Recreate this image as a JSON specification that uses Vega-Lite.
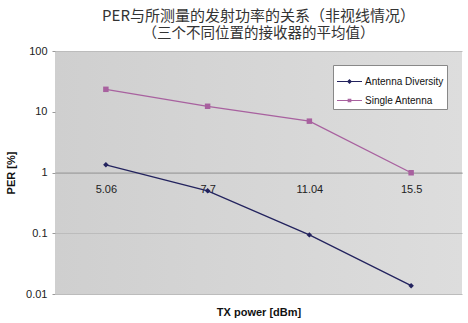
{
  "$schema": "https://vega.github.io/schema/vega-lite/v6.json",
  "width": 407,
  "height": 243,
  "autosize": {"type": "none"},
  "padding": {"left": 55, "top": 51, "right": 6, "bottom": 29},
  "background": "white",
  "config": {
    "view": {"stroke": null, "fill": {"gradient": "linear", "x1": 0, "y1": 0, "x2": 1, "y2": 0, "stops": [{"offset": 0, "color": "#cfcfcf"}, {"offset": 1, "color": "#dddddd"}]}},
    "font": "Liberation Sans"
  },
  "title": {
    "text": "PER与所测量的发射功率的关系（非视线情况）",
    "subtitle": "（三个不同位置的接收器的平均值）",
    "font": "Noto Sans CJK SC",
    "subtitleFont": "Noto Sans CJK SC",
    "fontSize": 15,
    "subtitleFontSize": 14.5,
    "fontWeight": "normal",
    "subtitleFontWeight": "normal",
    "color": "#333333",
    "subtitleColor": "#333333",
    "subtitlePadding": 3,
    "anchor": "middle",
    "offset": 5
  },
  "data": {
    "values": [
      {"power": "5.06", "series": "Antenna Diversity", "per": 1.34},
      {"power": "7.7", "series": "Antenna Diversity", "per": 0.50},
      {"power": "11.04", "series": "Antenna Diversity", "per": 0.094},
      {"power": "15.5", "series": "Antenna Diversity", "per": 0.0137},
      {"power": "5.06", "series": "Single Antenna", "per": 23.4},
      {"power": "7.7", "series": "Single Antenna", "per": 12.3},
      {"power": "11.04", "series": "Single Antenna", "per": 7.0},
      {"power": "15.5", "series": "Single Antenna", "per": 0.99}
    ]
  },
  "encoding": {
    "x": {
      "field": "power",
      "type": "ordinal",
      "sort": ["5.06", "7.7", "11.04", "15.5"],
      "scale": {"type": "point", "padding": 0.5},
      "axis": {
        "title": "TX power [dBm]",
        "titleFontWeight": "bold",
        "titleFontSize": 11,
        "titleColor": "#111111",
        "titleY": 139.5,
        "titleBaseline": "middle",
        "offset": -121.5,
        "labelAngle": 0,
        "labelPadding": 11,
        "labelFontSize": 11,
        "labelColor": "#222222",
        "ticks": false,
        "domainColor": "#9a9a9a",
        "domainWidth": 1,
        "grid": false
      }
    },
    "y": {
      "field": "per",
      "type": "quantitative",
      "scale": {"type": "log", "domain": [0.01, 100], "nice": false},
      "axis": {
        "title": "PER [%]",
        "titleFontWeight": "bold",
        "titleFontSize": 11,
        "titleColor": "#111111",
        "titlePadding": 9,
        "values": [0.01, 0.1, 1, 10, 100],
        "format": "~g",
        "labelFontSize": 11,
        "labelColor": "#222222",
        "labelPadding": 5,
        "tickSize": 3,
        "tickColor": "#999999",
        "domain": false,
        "grid": true,
        "gridColor": {"condition": {"test": "datum.value == 10", "value": "transparent"}, "value": "#bcbcbc"},
        "gridWidth": 1
      }
    },
    "color": {
      "field": "series",
      "type": "nominal",
      "scale": {"domain": ["Antenna Diversity", "Single Antenna"], "range": ["#23235e", "#a8619f"]},
      "legend": {
        "title": null,
        "orient": "none",
        "legendX": 278,
        "legendY": 14,
        "fillColor": "white",
        "strokeColor": "#888888",
        "padding": 3,
        "labelFontSize": 10,
        "labelColor": "#111111",
        "symbolSize": 625,
        "symbolStrokeWidth": 1.2,
        "labelOffset": 2,
        "rowPadding": -7,
        "encode": {
          "symbols": {
            "update": {
              "shape": {"signal": "datum.value === 'Antenna Diversity' ? 'M-1,0L1,0M0,-0.13L0.13,0L0,0.13L-0.13,0Z' : 'M-1,0L1,0M-0.1,-0.1L0.1,-0.1L0.1,0.1L-0.1,0.1Z'"},
              "fill": {"scale": "color", "field": "value"},
              "stroke": {"scale": "color", "field": "value"},
              "fillOpacity": {"value": 1},
              "strokeWidth": {"value": 1.2}
            }
          }
        }
      }
    }
  },
  "layer": [
    {"mark": {"type": "line", "strokeWidth": 1.3}},
    {
      "mark": {"type": "point", "filled": true, "size": 30, "opacity": 1},
      "encoding": {
        "shape": {"condition": {"test": "datum.series === 'Antenna Diversity'", "value": "diamond"}, "value": "square"}
      }
    }
  ]
}
